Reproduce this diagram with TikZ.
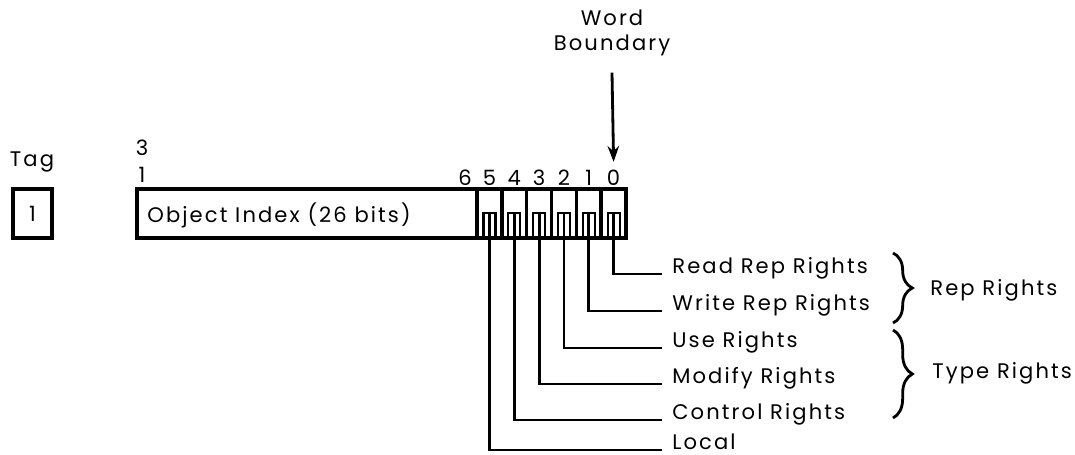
\documentclass[tikz,border=0pt]{standalone}
\usepackage{fontspec}
\setmainfont{Poppins}[LetterSpace=10]
\usetikzlibrary{arrows.meta,positioning,decorations.pathreplacing,calc}

\begin{document}
\begin{tikzpicture}[x=0.02cm,y=-0.02cm,>={Stealth[length=9pt,width=6.5pt]},
  box/.style={draw,line width=2pt,inner sep=0pt,minimum height=0.98cm},
  cell/.style={box,minimum width=0.496cm},
  wire/.style={line width=1.6pt},
  notch/.style={line width=1.2pt},
  lbl/.style={font=\fontsize{12}{14.5}\selectfont,inner sep=0pt},
  rbrace/.style={line width=1.6pt,decorate,decoration={brace,amplitude=11pt}}]
  \useasboundingbox (0,0) rectangle (1075,455);
  % tag bit
  \node[lbl] (taglbl) at (32,162) {Tag};
  \node[box,lbl,minimum width=0.78cm] (tag) at (32.5,213.5) {1};
  % object index field, bits 31..6
  \node[box,minimum width=6.8cm] (idx) at (307,213.5) {};
  \node[lbl,anchor=west] (idxtxt) at (147,215) {Object Index (26 bits)};
  \node[lbl] (hi3) at (142,148) {3};
  \node[lbl] (hi1) at (142,175) {1};
  \node[lbl] (d6) at (465,178) {6};
  % rights bits 5..0
  \foreach \i in {0,...,5} {
    \pgfmathsetmacro{\cx}{613.6-24.83*\i}
    \node[cell] (b\i) at (\cx,213.5) {};
    \draw[notch] (\cx-6,238) |- (\cx+6,213) -- (\cx+6,238);
    \coordinate (t\i) at (\cx,213);
    \node[lbl] (d\i) at (\cx,178) {\i};
  }
  % what each bit means
  \foreach \i/\y/\txt in {0/274/Read Rep Rights,1/311/Write Rep Rights,2/348/Use Rights,
                          3/384/Modify Rights,4/420/Control Rights,5/450/Local} {
    \node[lbl,anchor=base west] (r\i) at (672,\y) {\txt};
    \draw[wire] (t\i) |- ($(r\i.base west)+(-10,0)$);
  }
  % groups
  \draw[rbrace] (893,253) -- (893,323);
  \node[lbl,anchor=west] (rep) at (930,290) {Rep Rights};
  \draw[rbrace] (893,330) -- (893,418);
  \node[lbl,anchor=west] (type) at (932,373) {Type Rights};
  % word boundary
  \node[lbl,align=center] (wb) at (612,33) {Word\\Boundary};
  \draw[->,wire] ($(wb.south)+(0,16)$) -- ($(d0.north)+(0,-8)$);
\end{tikzpicture}
\end{document}
